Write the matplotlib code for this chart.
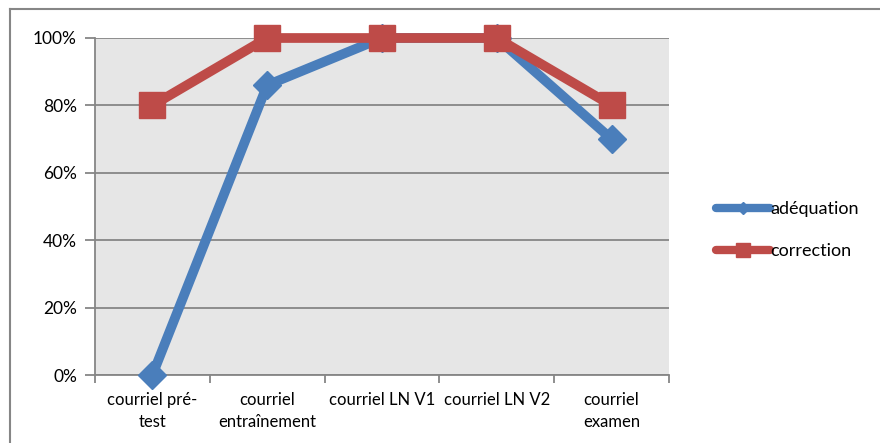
import matplotlib
matplotlib.use("Agg")
import matplotlib.pyplot as plt
from matplotlib.lines import Line2D
from matplotlib.ticker import FuncFormatter, MultipleLocator

categories = ["courriel pré-\ntest", "courriel\nentraînement", "courriel LN V1", "courriel LN V2", "courriel\nexamen"]
adequation = [0.0, 0.86, 1.0, 1.0, 0.70]
correction = [0.80, 1.0, 1.0, 1.0, 0.80]

plt.rcParams['font.family'] = ['Lato', 'DejaVu Sans']

W, H = 880, 443
fig = plt.figure(figsize=(W/100, H/100), dpi=100)
ax = fig.add_axes([95/W, 1-375/H, (669-95)/W, (375-38)/H])
ax.set_facecolor('#E6E6E6')

x = list(range(len(categories)))
blue = '#4A7EBB'
red = '#BE4B48'
ax.plot(x, adequation, color=blue, lw=7, marker='D', ms=14.5, zorder=3,
        solid_capstyle='round', clip_on=False)
ax.plot(x, correction, color=red, lw=7, marker='s', ms=19, zorder=4,
        solid_capstyle='round', clip_on=False)

ax.set_xlim(-0.5, len(categories)-0.5)
ax.set_ylim(0, 1.0)
ax.yaxis.set_major_locator(MultipleLocator(0.2))
ax.yaxis.set_major_formatter(FuncFormatter(lambda v, p: f"{v*100:.0f}%"))
ax.grid(axis='y', color='#868686', lw=1.3)
ax.set_axisbelow(True)
ax.set_xticks([i + 0.5 for i in range(-1, len(categories))])
ax.set_xticklabels([])
ax.set_xticks(x, minor=True)
ax.set_xticklabels(categories, minor=True, fontsize=12, linespacing=1.45)
ax.tick_params(axis='x', which='minor', length=0, pad=12)
ax.tick_params(axis='x', which='major', length=6, color='#868686', width=1.3)
ax.tick_params(axis='y', length=7, color='#868686', width=1.3, labelsize=12.5, pad=6)
for s in ['top', 'right']:
    ax.spines[s].set_visible(False)
for s in ['left', 'bottom']:
    ax.spines[s].set_color('#868686')
    ax.spines[s].set_linewidth(1.3)

handles = [Line2D([0], [0], color=blue, lw=6, marker='D', ms=6, solid_capstyle='round'),
           Line2D([0], [0], color=red, lw=6, marker='s', ms=10, solid_capstyle='round')]
fig.legend(handles, ['adéquation', 'correction'], loc='center left',
           bbox_to_anchor=(700/W, 1-230/H), frameon=False, fontsize=13,
           handlelength=3.0, handletextpad=0.0, labelspacing=1.45)

fig.add_artist(Line2D([10/W, 10/W], [0, 1-9/H], color='#868686', lw=1.5))
fig.add_artist(Line2D([10/W, 1], [1-9/H, 1-9/H], color='#868686', lw=1.5))

fig.savefig('out.png', dpi=100)
